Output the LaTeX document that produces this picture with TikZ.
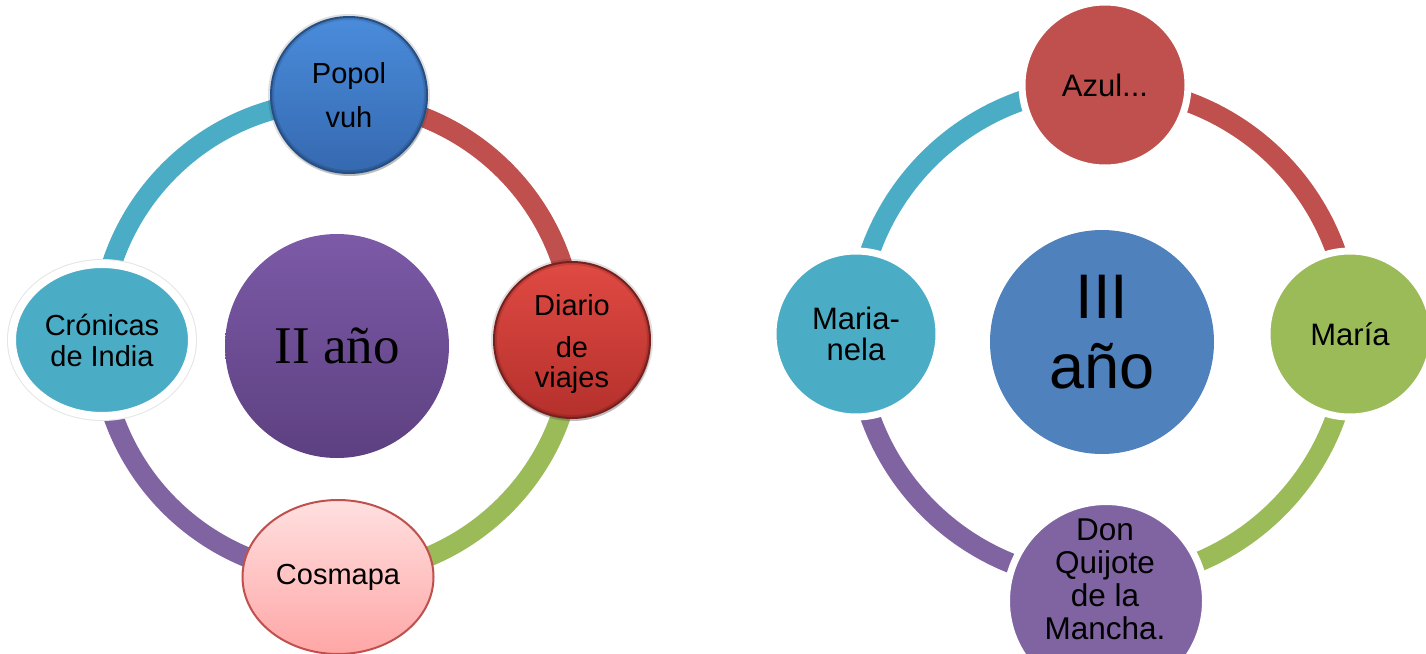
\documentclass[tikz,border=0pt]{standalone}
\usepackage{fontspec}
\setmainfont{Liberation Sans}
\newfontfamily\timesii{Liberation Serif}
\usetikzlibrary{shapes.geometric,shadows}
\definecolor{cTeal}{HTML}{4BACC6}
\definecolor{cRed}{HTML}{C0504D}
\definecolor{cGreen}{HTML}{9BBB59}
\definecolor{cPurple}{HTML}{8064A2}
\definecolor{cBlue}{HTML}{4F81BD}
\definecolor{popTop}{HTML}{4A8CDB}
\definecolor{popBot}{HTML}{3569B0}
\definecolor{popEdge}{HTML}{2B5A98}
\definecolor{diaTop}{HTML}{E04A43}
\definecolor{diaBot}{HTML}{B5302C}
\definecolor{diaEdge}{HTML}{8A2421}
\definecolor{cosTop}{HTML}{FFE0E0}
\definecolor{cosBot}{HTML}{FFA6A6}
\definecolor{iiTop}{HTML}{7C5AA7}
\definecolor{iiBot}{HTML}{5D4081}
\tikzset{
  ring/.style={line width=10pt},
  lfont/.style={font=\fontsize{14.5}{15.5}\selectfont},
  rfont/.style={font=\fontsize{15.5}{15.5}\selectfont},
  bevel/.style={circle, inner sep=0pt, minimum size=78pt, align=center, lfont, line width=1pt,
    drop shadow={opacity=0.3,shadow xshift=0.5pt,shadow yshift=-1.5pt},
    postaction={draw=black, draw opacity=0.12, line width=3pt}},
  rnode/.style={circle, inner sep=0pt, minimum size=83pt, align=center, rfont, draw=white, line width=3.5pt},
}
\begin{document}
\begin{tikzpicture}[x=0.5pt,y=-0.5pt]
\path[use as bounding box, fill=white] (0,0) rectangle (1426,654);
\begin{scope}
\clip (0,0) rectangle (1426,654);
% ---------- left ring ----------
\coordinate (L) at (337,338);
\draw[ring, cGreen]  (L) ++(237,0)  arc[start angle=0,   end angle=90,  radius=237];
\draw[ring, cPurple] (L) ++(0,237)  arc[start angle=90,  end angle=180, radius=237];
\draw[ring, cTeal]   (L) ++(-237,0) arc[start angle=180, end angle=270, radius=237];
\draw[ring, cRed]    (L) ++(0,-237) arc[start angle=270, end angle=360, radius=237];
% ---------- right ring ----------
\coordinate (R) at (1103,334);
\draw[ring, cGreen]  (R) ++(247,0)  arc[start angle=0,   end angle=90,  radius=247];
\draw[ring, cPurple] (R) ++(0,247)  arc[start angle=90,  end angle=180, radius=247];
\draw[ring, cTeal]   (R) ++(-247,0) arc[start angle=180, end angle=270, radius=247];
\draw[ring, cRed]    (R) ++(0,-247) arc[start angle=270, end angle=360, radius=247];
% ---------- left nodes ----------
\node[circle, inner sep=0pt, minimum size=112pt, top color=iiTop, bottom color=iiBot,
      font=\timesii\fontsize{26.5}{30}\selectfont] (ii) at (337,346) {II año};
\node[bevel, top color=popTop, bottom color=popBot, draw=popEdge] (popol) at (349,95) {Popol\\[6.5pt]vuh};
\node[bevel, top color=diaTop, bottom color=diaBot, draw=diaEdge] (diario) at (572,340)
  {\rule{0pt}{14.3pt}Diario\\[5.5pt]de\\[-0.5pt]viajes};
\node[ellipse, inner sep=0pt, minimum width=90pt, minimum height=76pt, fill=cTeal, draw=white, line width=4pt,
      preaction={draw=black!10, line width=5pt}, align=center, lfont] (cronicas) at (102,340) {Crónicas\\de India};
\node[ellipse, inner sep=0pt, minimum width=95.5pt, minimum height=77pt, top color=cosTop, bottom color=cosBot,
      draw=cRed, line width=1pt, lfont] (cosmapa) at (338,577) {Cosmapa};
% ---------- right nodes ----------
\node[circle, inner sep=0pt, minimum size=112pt, fill=cBlue] (iii) at (1102,342) {};
\node[align=center, font=\fontsize{31.5}{35}\selectfont] (iiitext) at (1102,332) {III\\año};
\node[rnode, fill=cRed] (azul) at (1105,85) {Azul...};
\node[rnode, fill=cGreen] (maria) at (1350,334) {María};
\node[rnode, fill=cTeal] (marianela) at (856,334) {Maria-\\nela};
\node[rnode, fill=cPurple, minimum size=99.5pt] (quijote) at (1106,601) {};
\node[align=center, font=\fontsize{15.75}{16.5}\selectfont] (quijotetext) at (1105,579) {Don\\Quijote\\de la\\Mancha.};
\end{scope}
\end{tikzpicture}
\end{document}
